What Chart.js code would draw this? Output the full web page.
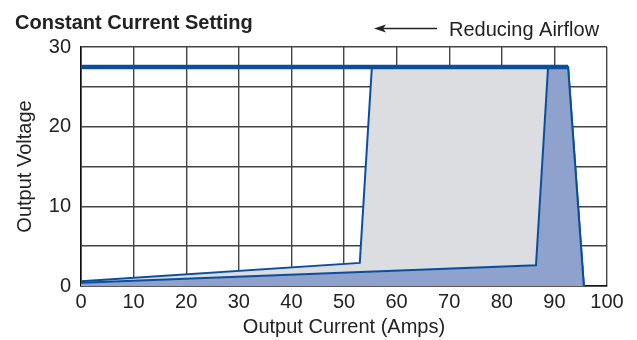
<!DOCTYPE html>
<html>
<head>
<meta charset="utf-8">
<script src="https://cdn.jsdelivr.net/npm/chart.js@4.4.0/dist/chart.umd.min.js"></script>
<style>
  html, body { margin: 0; padding: 0; background: #fff; }
</style>
</head>
<body>
<canvas id="chart" width="637" height="340"></canvas>
<script>
// upper curve (grey region boundary)
const currentA = [0, 53, 55.3, 92.6, 95.6];
const voltageA = [0.6, 2.9, 27.5, 27.5, 0];
// lower curve (blue region boundary)
const currentB = [0, 86.5, 88.8, 92.6, 95.6];
const voltageB = [0.4, 2.6, 27.5, 27.5, 0];
// constant voltage setting line
const currentSet = [0, 92.6];
const voltageSet = [27.5, 27.5];

const yLabels = [0, 10, 20, 30];

const toPoints = (xs, ys) => xs.map((x, i) => ({ x: x, y: ys[i] }));

const FONT = '"Liberation Sans", Arial, sans-serif';
const BLUE = '#0b4f9c';

// titles, arrow and axis names
const textPlugin = {
  id: 'texts',
  afterDraw(chart) {
    const ctx = chart.ctx;
    const area = chart.chartArea;
    ctx.save();
    ctx.fillStyle = '#222';
    ctx.textBaseline = 'alphabetic';

    ctx.font = 'bold 20px ' + FONT;
    ctx.textAlign = 'left';
    ctx.fillText('Constant Current Setting', 15, 29);

    ctx.font = '20px ' + FONT;
    ctx.fillText('Reducing Airflow', 449, 36);

    // arrow
    ctx.strokeStyle = '#222';
    ctx.lineWidth = 1.3;
    ctx.beginPath();
    ctx.moveTo(437, 28.5);
    ctx.lineTo(378, 28.5);
    ctx.stroke();
    ctx.beginPath();
    ctx.moveTo(374, 28.5);
    ctx.lineTo(386, 24.5);
    ctx.lineTo(383, 28.5);
    ctx.lineTo(386, 32.5);
    ctx.closePath();
    ctx.fill();

    // axis titles
    ctx.textAlign = 'center';
    ctx.fillText('Output Current (Amps)', (area.left + area.right) / 2, 333);

    ctx.translate(31, (area.top + area.bottom) / 2);
    ctx.rotate(-Math.PI / 2);
    ctx.fillText('Output Voltage', 0, 0);
    ctx.restore();
  }
};

new Chart(document.getElementById('chart'), {
  type: 'scatter',
  data: {
    datasets: [
      {
        data: toPoints(currentSet, voltageSet),
        showLine: true,
        borderColor: BLUE,
        borderWidth: 4.5,
        pointRadius: 0,
        fill: false
      },
      {
        data: toPoints(currentB, voltageB),
        showLine: true,
        borderColor: BLUE,
        borderWidth: 2,
        backgroundColor: '#8fa2ce',
        pointRadius: 0,
        fill: 'origin'
      },
      {
        data: toPoints(currentA, voltageA),
        showLine: true,
        borderColor: BLUE,
        borderWidth: 2,
        backgroundColor: '#dcdde0',
        pointRadius: 0,
        fill: 'origin'
      }
    ]
  },
  options: {
    responsive: false,
    animation: false,
    devicePixelRatio: 1,
    layout: {
      padding: { left: 0, right: 30, top: 47, bottom: 0 }
    },
    plugins: {
      legend: { display: false },
      tooltip: { enabled: false },
      title: { display: false }
    },
    scales: {
      x: {
        type: 'linear',
        min: 0,
        max: 100,
        afterFit: (s) => { s.height = 54; },
        ticks: {
          stepSize: 10,
          padding: 4,
          color: '#222',
          font: { family: FONT, size: 20 }
        },
        grid: {
          color: '#444',
          lineWidth: 1.4,
          drawTicks: false
        },
        border: { color: '#111', width: 1.6 }
      },
      y: {
        type: 'linear',
        min: 0,
        max: 30,
        afterFit: (s) => { s.width = 81; },
        ticks: {
          stepSize: 5,
          padding: 10,
          color: '#222',
          font: { family: FONT, size: 20 },
          callback: (v) => yLabels.includes(v) ? v : ''
        },
        grid: {
          color: '#444',
          lineWidth: 1.4,
          drawTicks: false
        },
        border: { color: '#111', width: 1.6 }
      }
    }
  },
  plugins: [textPlugin]
});
</script>
</body>
</html>
